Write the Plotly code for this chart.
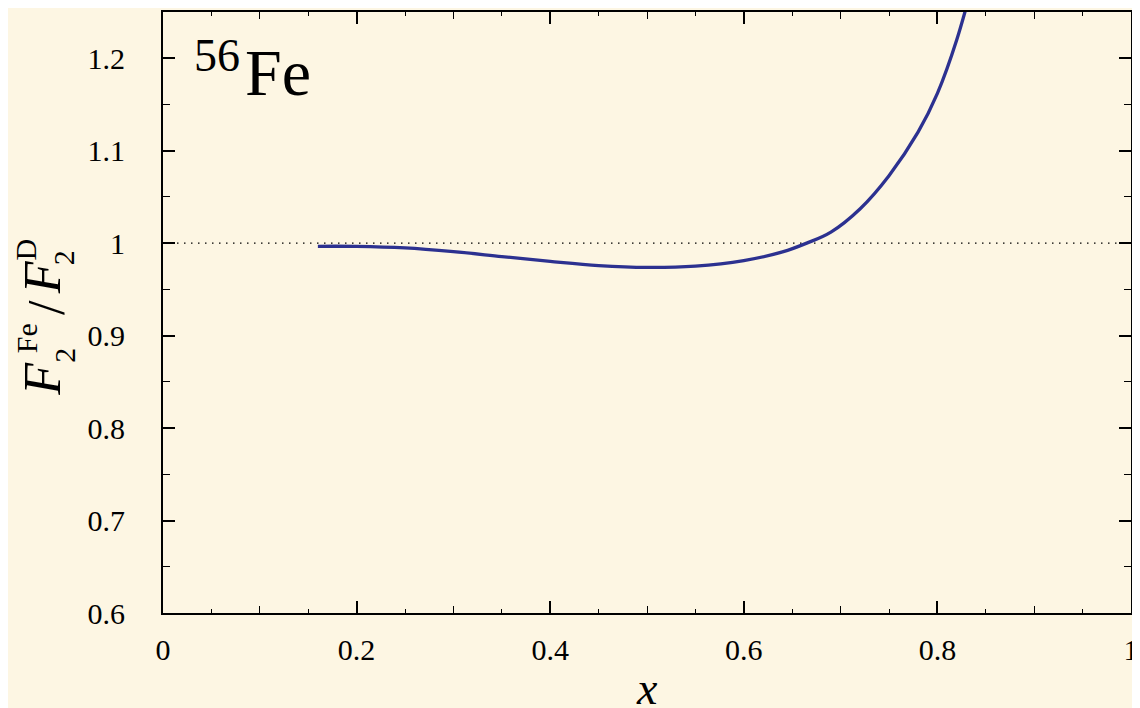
import plotly.graph_objects as go

# ---- data ----
x_vals = [0.16, 0.20, 0.25, 0.30, 0.35, 0.40, 0.45, 0.50, 0.55, 0.60,
          0.64, 0.665, 0.69, 0.72, 0.75, 0.78, 0.80, 0.82, 0.84]
ratio = [0.9966, 0.9965, 0.9948, 0.9908, 0.9855, 0.9803, 0.9758, 0.9738,
         0.9752, 0.9812, 0.9905, 1.0000, 1.0120, 1.0370, 1.0730, 1.1200,
         1.1620, 1.2200, 1.2950]
ref_x = [0.0, 1.0]
ref_y = [1.0, 1.0]

x_tickvals = [0, 0.2, 0.4, 0.6, 0.8, 1.0]
x_ticktext = ["0", "0.2", "0.4", "0.6", "0.8", "1"]
x_midticks = [0.1, 0.3, 0.5, 0.7, 0.9]
y_tickvals = [0.6, 0.7, 0.8, 0.9, 1.0, 1.1, 1.2]
y_ticktext = ["0.6", "0.7", "0.8", "0.9", "1", "1.1", "1.2"]

BG = "#fdf6e3"
LINE = "#2c3190"
FONT = "Liberation Serif, DejaVu Serif, serif"

OFF = 8  # page body margin
W, H = 1140 - OFF, 708 - OFF
ML, MR, MT, MB = 163 - OFF, 2, 1.5, 95
PW, PH = W - ML - MR, H - MT - MB


def px(xp):  # page pixel -> paper x
    return (xp - OFF - ML) / PW


def py(yp):  # page pixel -> paper y
    return (H - MB - (yp - OFF)) / PH


fig = go.Figure()
fig.add_trace(go.Scatter(x=ref_x, y=ref_y, mode="lines",
                         line=dict(color="black", width=1.3, dash="1.5px,5.5px"),
                         hoverinfo="skip", showlegend=False))
fig.add_trace(go.Scatter(x=x_vals, y=ratio, mode="lines",
                         line=dict(color=LINE, width=3.3, shape="spline", smoothing=1.0),
                         showlegend=False))
# invisible trace so the overlay axis carrying the 0.1 ticks is drawn
fig.add_trace(go.Scatter(x=ref_x, y=ref_y, xaxis="x2", mode="markers",
                         marker=dict(opacity=0), hoverinfo="skip", showlegend=False))

tick_font = dict(family=FONT, size=30, color="black")

fig.update_layout(
    width=W, height=H,
    margin=dict(l=ML, r=MR, t=MT, b=MB, pad=0),
    paper_bgcolor=BG, plot_bgcolor=BG,
    showlegend=False,
    font=dict(family=FONT),
    xaxis=dict(range=[0, 1], tickvals=x_tickvals, ticktext=x_ticktext,
               ticks="inside", ticklen=12, tickwidth=1.6, tickcolor="black",
               showline=True, linecolor="black", linewidth=2, mirror="ticks",
               showgrid=False, zeroline=False, tickfont=tick_font,
               ticklabelstandoff=9, ticklabeloverflow="allow",
               minor=dict(dtick=0.05, tick0=0, ticks="inside", ticklen=4,
                          tickwidth=1.3, tickcolor="black", showgrid=False)),
    xaxis2=dict(range=[0, 1], overlaying="x", anchor="y", side="bottom",
                tickvals=x_midticks, ticks="inside", ticklen=7, tickwidth=1.4,
                tickcolor="black", showticklabels=False, mirror="ticks",
                showline=False, showgrid=False, zeroline=False),
    yaxis=dict(range=[0.6, 1.25], tickvals=y_tickvals, ticktext=y_ticktext,
               ticks="inside", ticklen=12, tickwidth=1.6, tickcolor="black",
               showline=True, linecolor="black", linewidth=2, mirror="ticks",
               showgrid=False, zeroline=False, tickfont=tick_font,
               ticklabelstandoff=30, ticklabeloverflow="allow",
               minor=dict(dtick=0.05, tick0=0, ticks="inside", ticklen=7,
                          tickwidth=1.3, tickcolor="black", showgrid=False)),
)

ann = []
# 56Fe label
ann.append(dict(text="56", x=px(192), y=py(53), xref="paper", yref="paper",
                xanchor="left", yanchor="middle", showarrow=False,
                font=dict(family=FONT, size=46, color="black")))
ann.append(dict(text="Fe", x=px(244), y=py(70), xref="paper", yref="paper",
                xanchor="left", yanchor="middle", showarrow=False,
                font=dict(family=FONT, size=66, color="black")))
# x-axis title
ann.append(dict(text="<i>x</i>", x=px(651), y=py(689), xref="paper", yref="paper",
                xanchor="center", yanchor="middle", showarrow=False,
                font=dict(family=FONT, size=46, color="black")))
# y-axis title pieces (rotated), stacked sub/superscripts
ytitle = [
    ("<i>F</i>", 42, 378, 52),
    ("2", 63, 354, 30),
    ("Fe", 25, 337, 30),
    ("/", 45, 306, 52),
    ("<i>F</i>", 42, 276, 52),
    ("2", 63, 256, 30),
    ("D", 25, 248, 30),
]
for txt, xp_, yp_, sz in ytitle:
    ann.append(dict(text=txt, x=px(xp_), y=py(yp_), xref="paper", yref="paper",
                    xanchor="center", yanchor="middle", showarrow=False,
                    textangle=-90,
                    font=dict(family=FONT, size=sz, color="black")))
fig.update_layout(annotations=ann)

fig.write_html("out.html")
